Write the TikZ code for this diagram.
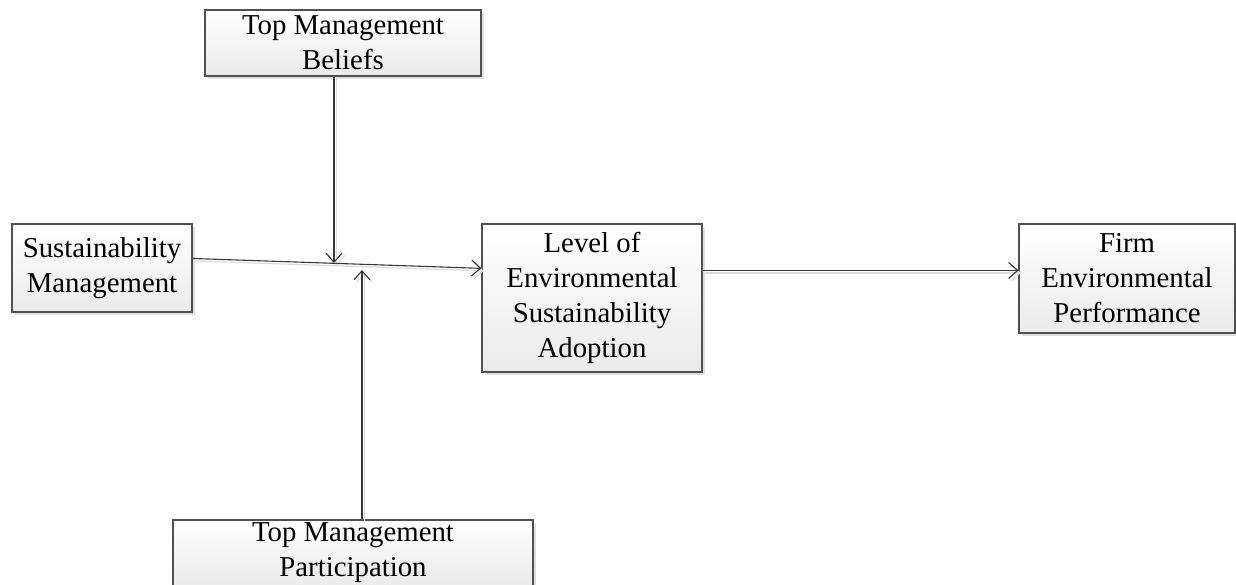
\documentclass[tikz,border=0pt]{standalone}
\usepackage{fontspec}
\setmainfont{Liberation Serif}
\usetikzlibrary{arrows.meta,shadows}
\definecolor{boxline}{HTML}{505050}
\definecolor{arrline}{HTML}{383838}
\tikzset{
  box/.style={draw=boxline, line width=1.2pt, top color=white, bottom color=black!8,
    drop shadow={shadow xshift=3pt, shadow yshift=-3pt, fill=black!12, opacity=1},
    align=center, inner sep=0pt, font=\fontsize{28.8}{35}\selectfont},
  conn/.style={draw=arrline, line width=1.1pt, -{Straight Barb[length=9pt,width=16pt]},
    preaction={draw=black!14, line width=1.2pt, -{Straight Barb[length=9pt,width=16pt]},
      transform canvas={shift={(2.5pt,-2.5pt)}}}}
}
\begin{document}
\begin{tikzpicture}[x=1pt,y=-1pt]
\clip (0,0) rectangle (1236,584);
\useasboundingbox (0,0) rectangle (1236,584);
\node[box, minimum width=276pt, minimum height=66pt] (tmb) at (343,43) {Top Management\\Beliefs};
\node[box, minimum width=180pt, minimum height=88pt] (sm) at (102,268) {Sustainability\\Management};
\node[box, minimum width=220pt, minimum height=148pt] (lesa) at (592,298) {Level of\\Environmental\\Sustainability\\Adoption};
\node[box, minimum width=216pt, minimum height=109pt] (fep) at (1127,278.5) {Firm\\Environmental\\Performance};
\node[box, minimum width=360pt, minimum height=66pt] (tmp) at (353,553) {Top Management\\Participation};
\coordinate (j1) at (334,263);
\coordinate (j2) at (362,270);
\draw[conn] (tmb.south -| j1) -- (j1);
\draw[conn] (tmp.north -| j2) -- (j2);
\draw[conn] (sm.6.3) -- (lesa.165.2);
\draw[conn] (lesa.14.8) -- (lesa.14.8 -| fep.west);
\end{tikzpicture}
\end{document}
